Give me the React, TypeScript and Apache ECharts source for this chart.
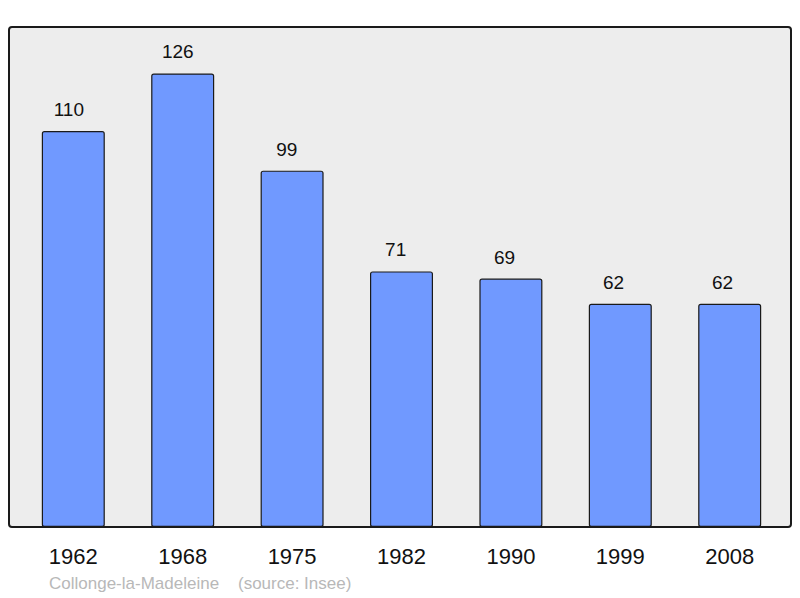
import React, { useEffect, useRef } from "react";
import * as echarts from "echarts";

const years = ["1962", "1968", "1975", "1982", "1990", "1999", "2008"];
const population = [110, 126, 99, 71, 69, 62, 62];
const footer = "Collonge-la-Madeleine    (source: Insee)";

export default function App() {
  const ref = useRef<HTMLDivElement>(null);
  useEffect(() => {
    document.body.style.margin = "0";
    const chart = echarts.init(ref.current!, null, { renderer: "svg" });
    const font = "'Liberation Sans', Arial, sans-serif";
    chart.setOption({
      animation: false,
      backgroundColor: "#ffffff",
      graphic: [
        {
          type: "rect",
          z: -10,
          shape: { x: 9, y: 27, width: 782, height: 500, r: 3 },
          style: { fill: "#ededed", stroke: "#1a1a1a", lineWidth: 2 },
        },
        {
          type: "text",
          left: 49,
          top: 575,
          style: { text: footer, fill: "#b8b8b8", font: `17px ${font}` },
        },
      ],
      grid: { left: 18.6, width: 765.8, top: 27, height: 500 },
      xAxis: {
        type: "category",
        data: years,
        axisLine: { show: false },
        axisTick: { show: false },
        axisLabel: { color: "#111", fontSize: 22, fontFamily: font, margin: 18 },
      },
      yAxis: { type: "value", min: 0, max: 138.9, show: false, splitLine: { show: false } },
      series: [
        {
          type: "bar",
          data: population.map((v, i) => ({
            value: v,
            label: { offset: [-4.5 - 0.45 * i, 0] },
          })),
          barWidth: 63,
          itemStyle: { color: "#7099ff", borderColor: "#1a1a1a", borderWidth: 1.2, borderRadius: 2 },
          label: {
            show: true,
            position: "top",
            distance: 12,
            color: "#111",
            fontSize: 19,
            fontFamily: font,
          },
        },
      ],
    });
    return () => chart.dispose();
  }, []);
  return <div ref={ref} style={{ width: 800, height: 598 }} />;
}
